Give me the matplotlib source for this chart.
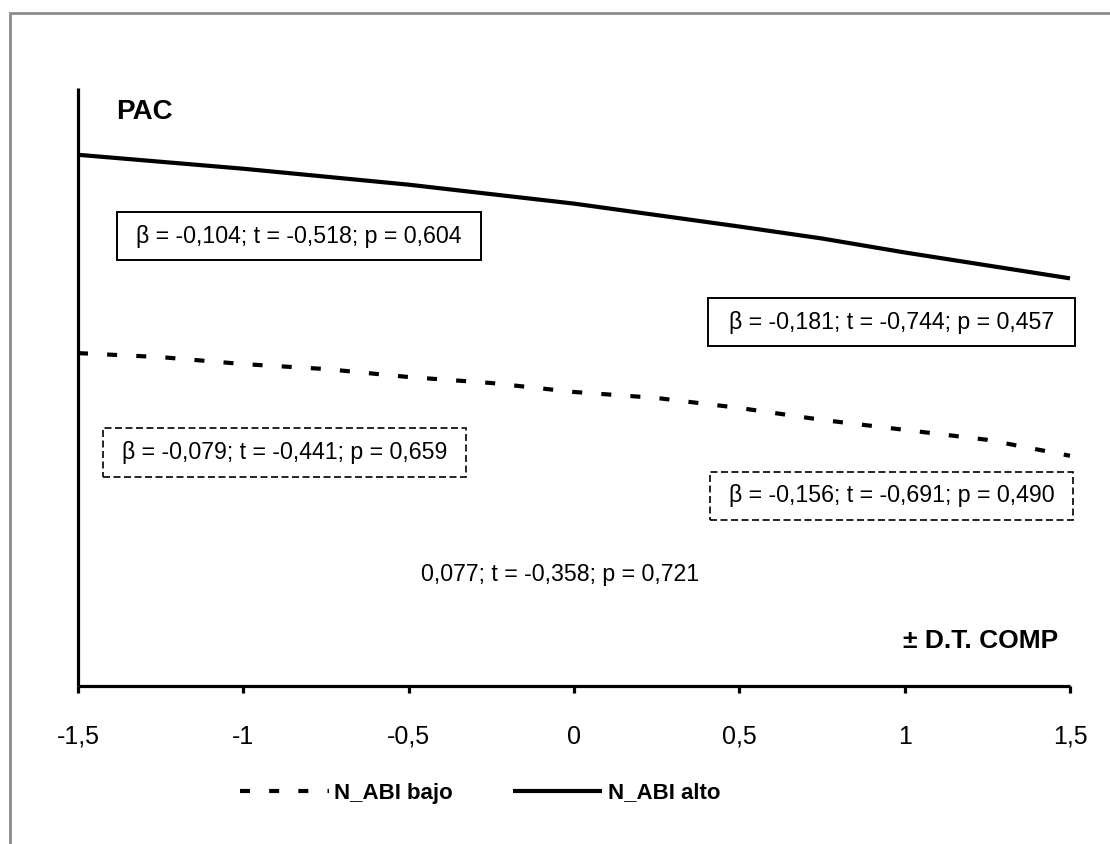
import matplotlib
matplotlib.use("Agg")
import matplotlib.pyplot as plt
from matplotlib.patches import Rectangle

plt.rcParams['font.family'] = ['Liberation Sans', 'DejaVu Sans']

# ---- data ----
x_alto = [-1.5, -1.0, -0.5, 0.0, 0.5, 0.75, 1.0, 1.5]
y_alto = [5.33, 5.19, 5.03, 4.84, 4.61, 4.49, 4.35, 4.09]

x_bajo = [-1.5, -1.25, -1.0, -0.75, -0.5, -0.25, 0.0, 0.25, 0.5, 0.75, 1.0, 1.25, 1.5]
y_bajo = [3.34, 3.30, 3.23, 3.18, 3.10, 3.04, 2.95, 2.89, 2.79, 2.67, 2.57, 2.47, 2.31]

tick_values = [-1.5, -1.0, -0.5, 0.0, 0.5, 1.0, 1.5]
tick_labels = ['-1,5', '-1', '-0,5', '0', '0,5', '1', '1,5']

series_labels = ['N_ABI bajo', 'N_ABI alto']
y_label = 'PAC'
x_label = '± D.T. COMP'

stat_alto_1 = 'β = -0,104; t = -0,518; p = 0,604'
stat_alto_2 = 'β = -0,181; t = -0,744; p = 0,457'
stat_bajo_1 = 'β = -0,079; t = -0,441; p = 0,659'
stat_bajo_2 = 'β = -0,156; t = -0,691; p = 0,490'
stat_extra = '0,077; t = -0,358; p = 0,721'

# ---- figure ----
W, H = 1110, 844
fig = plt.figure(figsize=(W / 100, H / 100), dpi=100)
fig.patch.set_facecolor('white')

def fx(px):
    return px / W

def fy(py):
    return 1 - py / H

ax = fig.add_axes([fx(78), fy(686), fx(1070) - fx(78), fy(88) - fy(686)])
ax.set_xlim(-1.5, 1.5)
ax.set_ylim(0, 6)

ax.plot(x_bajo, y_bajo, color='black', lw=3, linestyle=(0, (2.4, 4.6)),
        dash_capstyle='butt', label=series_labels[0], clip_on=False)
ax.plot(x_alto, y_alto, color='black', lw=3, linestyle='-',
        solid_capstyle='butt', label=series_labels[1], clip_on=False)

for s in ['top', 'right']:
    ax.spines[s].set_visible(False)
for s in ['left', 'bottom']:
    ax.spines[s].set_linewidth(2.3)
    ax.spines[s].set_capstyle('butt')

ax.set_yticks([])
ax.set_xticks(tick_values)
ax.set_xticklabels(tick_labels)
ax.tick_params(axis='x', direction='out', length=5, width=2.3, pad=23, labelsize=18)

# axis labels as text
fig.text(fx(116), fy(112), y_label, fontsize=20, fontweight='bold', ha='left', va='center')
fig.text(fx(1058), fy(641), x_label, fontsize=19, fontweight='bold', ha='right', va='center')

# stat boxes
def box(x0, y0, x1, y1, text, dashed):
    ls = (0, (4.2, 2.1)) if dashed else '-'
    lw = 1.2 if dashed else 1.4
    r = Rectangle((fx(x0), fy(y1)), fx(x1) - fx(x0), fy(y0) - fy(y1),
                  transform=fig.transFigure, facecolor='white', edgecolor='black',
                  lw=lw, linestyle=ls, zorder=3)
    fig.patches.append(r)
    fig.text(fx((x0 + x1) / 2), fy((y0 + y1) / 2), text, fontsize=16.7,
             ha='center', va='center', zorder=4)

box(117, 212, 481, 260, stat_alto_1, False)
box(708, 298, 1075, 346, stat_alto_2, False)
box(103, 428, 466, 477, stat_bajo_1, True)
box(710, 472, 1073, 520, stat_bajo_2, True)
fig.text(fx(560), fy(574), stat_extra, fontsize=16.7, ha='center', va='center')

# legend
leg = fig.legend(loc='center', bbox_to_anchor=(fx(480), fy(793)), ncol=2,
                 frameon=False, prop={'weight': 'bold', 'size': 16},
                 handlelength=4.0, handletextpad=0.25, columnspacing=2.7)

# outer frame (cropped on right and bottom)
frame = Rectangle((fx(10), -0.1), 1.2, fy(13) + 0.1, transform=fig.transFigure,
                  facecolor='none', edgecolor='#8c8c8c', lw=2.0)
fig.patches.append(frame)

fig.savefig('out.png', dpi=100, facecolor='white')
